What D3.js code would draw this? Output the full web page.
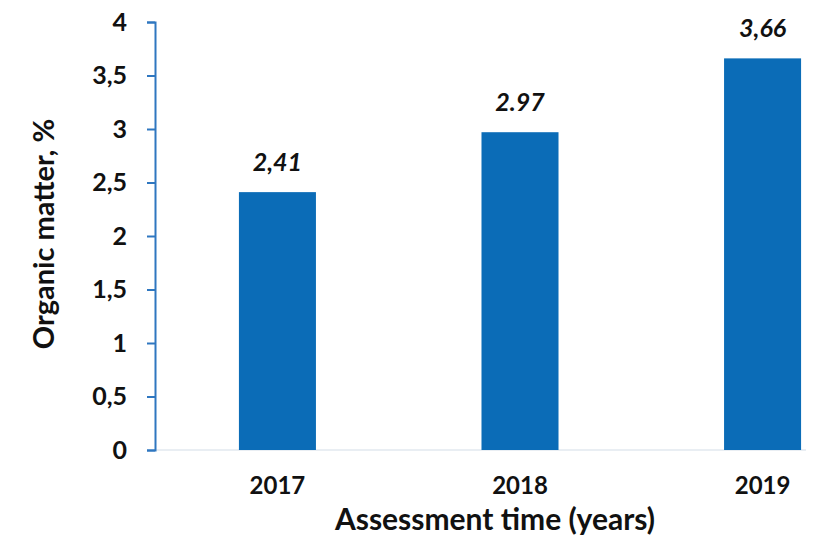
<!DOCTYPE html>
<html>
<head>
<meta charset="utf-8">
<script src="https://cdn.jsdelivr.net/npm/d3@7"></script>
<style>
  body { margin: 0; background: #fff; }
  text { font-family: Lato, "Open Sans", sans-serif; }
</style>
</head>
<body>
<div id="chart"></div>
<script>
// chart data
var years = ["2017", "2018", "2019"];
var organic = [2.41, 2.97, 3.66];
var valueLabels = ["2,41", "2.97", "3,66"];
var yTicks = [0, 0.5, 1, 1.5, 2, 2.5, 3, 3.5, 4];
var yTickLabels = ["0", "0,5", "1", "1,5", "2", "2,5", "3", "3,5", "4"];

var width = 816, height = 549;
var svg = d3.select("#chart")
            .append("svg")
            .attr("width", width)
            .attr("height", height);

var axisX = 155;
var xScale = d3.scaleBand()
               .domain(years)
               .range([axisX, 885])
               .paddingInner(0.6825)
               .paddingOuter(0.346);
var yScale = d3.scaleLinear()
               .domain([0, 4])
               .range([450, 22]);

// faint baseline
svg.append("line")
   .attr("x1", axisX).attr("x2", 806)
   .attr("y1", yScale(0)).attr("y2", yScale(0))
   .attr("stroke", "#e2e8ef")
   .attr("stroke-width", 1.5);

// bars
svg.append("g")
   .selectAll("rect")
   .data(organic)
   .enter()
   .append("rect")
   .attr("x", (d, i) => xScale(years[i]))
   .attr("y", d => yScale(d))
   .attr("width", xScale.bandwidth())
   .attr("height", d => yScale(0) - yScale(d))
   .attr("fill", "#0b6cb7");

// value labels
svg.append("g")
   .selectAll("text")
   .data(organic)
   .enter()
   .append("text")
   .attr("x", (d, i) => xScale(years[i]) + xScale.bandwidth() / 2)
   .attr("y", d => yScale(d) - 21)
   .attr("text-anchor", "middle")
   .style("font-size", "25px")
   .style("font-weight", "bold")
   .style("font-style", "italic")
   .attr("fill", "#111")
   .text((d, i) => valueLabels[i]);

// y axis
var yAxis = svg.append("g")
   .attr("transform", "translate(" + axisX + ",0)")
   .call(d3.axisLeft(yScale)
           .tickValues(yTicks)
           .tickFormat((d, i) => yTickLabels[i])
           .tickSize(8)
           .tickSizeOuter(8)
           .tickPadding(20));
yAxis.select(".domain").attr("stroke", "#2f77c0").attr("stroke-width", 2);
yAxis.selectAll(".tick line").attr("stroke", "#2f77c0").attr("stroke-width", 2);
yAxis.selectAll(".tick text")
     .style("font-size", "25px")
     .style("font-weight", "bold")
     .style("font-family", "Lato, sans-serif")
     .attr("fill", "#111");

// x labels
svg.append("g")
   .selectAll("text")
   .data(years)
   .enter()
   .append("text")
   .attr("x", d => xScale(d) + xScale.bandwidth() / 2)
   .attr("y", 494)
   .attr("text-anchor", "middle")
   .style("font-size", "24px")
   .style("font-weight", "bold")
   .attr("fill", "#111")
   .text(d => d);

// axis titles
svg.append("text")
   .attr("x", 495)
   .attr("y", 530)
   .attr("text-anchor", "middle")
   .style("font-size", "30px")
   .style("font-weight", "bold")
   .attr("fill", "#111")
   .text("Assessment time (years)");

svg.append("text")
   .attr("transform", "translate(54,234) rotate(-90)")
   .attr("text-anchor", "middle")
   .style("font-size", "29px")
   .style("font-weight", "bold")
   .attr("fill", "#111")
   .text("Organic matter, %");
</script>
</body>
</html>
